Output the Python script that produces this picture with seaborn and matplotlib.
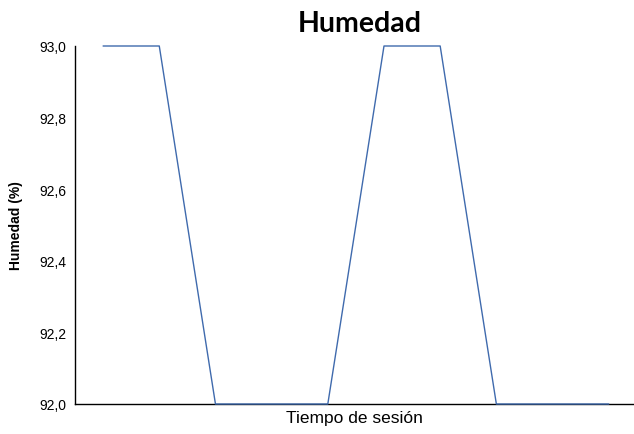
import matplotlib
matplotlib.use("Agg")
import matplotlib.pyplot as plt
import seaborn as sns
import pandas as pd
from matplotlib.ticker import FuncFormatter

sample = list(range(10))
humedad = [93, 93, 92, 92, 92, 93, 93, 92, 92, 92]
yticks = [92.0, 92.2, 92.4, 92.6, 92.8, 93.0]

sns.set_theme(style="white")
plt.rcParams['font.family'] = ['Liberation Sans', 'DejaVu Sans']
plt.rcParams['text.color'] = 'black'
plt.rcParams['axes.labelcolor'] = 'black'

df = pd.DataFrame({"t": sample, "h": humedad})
fig = plt.figure(figsize=(6.34, 4.35), dpi=100)
ax = fig.add_axes([75/634, 1-405/435, 1-75/634, (405-47)/435])
sns.lineplot(data=df, x="t", y="h", ax=ax, color="#3f6aad", linewidth=1.0,
             zorder=3, clip_on=False)
ax.set_xlim(-0.5, 9.45)
ax.set_ylim(92, 93)
ax.set_yticks(yticks)
ax.yaxis.set_major_formatter(FuncFormatter(lambda v, p: f"{v:.1f}".replace(".", ",")))
ax.set_xticks([])
ax.tick_params(axis="y", length=0, pad=6, labelsize=10, colors="black")
for s in ["top", "right"]:
    ax.spines[s].set_visible(False)
for s in ["left", "bottom"]:
    ax.spines[s].set_color("black")
    ax.spines[s].set_linewidth(1.0)
ax.set_xlabel("Tiempo de sesión", fontsize=12.5, labelpad=4, color="black")
ax.set_ylabel("Humedad (%)", fontsize=10, fontweight="bold", labelpad=12, color="black")
fig.text(0.568, 0.945, "Humedad", ha="center", va="center", fontsize=20.5,
         fontweight="bold", color="black", family=["Lato", "DejaVu Sans"])
fig.savefig("out.png", dpi=100)
